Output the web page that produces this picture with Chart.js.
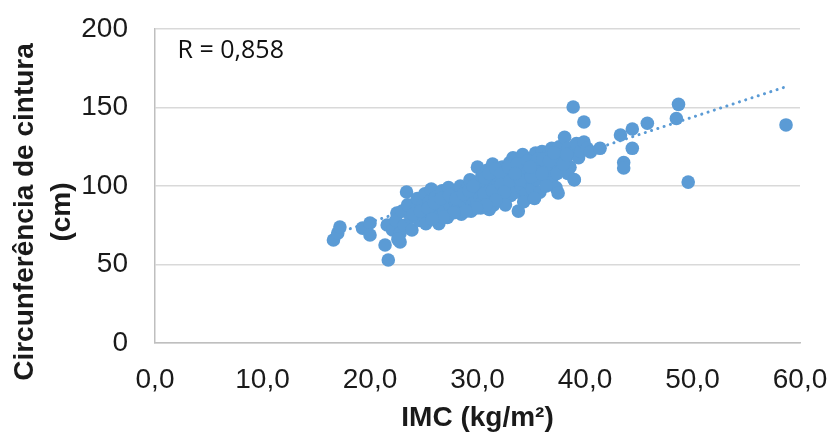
<!DOCTYPE html>
<html>
<head>
<meta charset="utf-8">
<script src="https://cdn.jsdelivr.net/npm/chart.js@4"></script>
<style>
  html, body { margin: 0; padding: 0; background: #fff; }
  #wrap { width: 830px; height: 432px; }
</style>
</head>
<body>
<div id="wrap"><canvas id="chart" width="830" height="432"></canvas></div>
<script>
// Data: IMC (kg/m2) vs waist circumference (cm)
const imcValues = [
  16.6, 17.0, 17.2, 19.3, 20.0, 20.0, 21.6, 21.4, 21.7, 22.8, 23.4, 22.5,
  22.1, 22.4, 22.8, 23.0, 23.2, 23.5, 23.8, 23.9, 22.6,
  24.2, 24.4, 24.6, 24.9, 25.1, 25.3, 25.5, 25.7, 25.9, 25.2,
  26.1, 26.3, 26.5, 26.7, 26.9, 27.1, 27.3, 27.5, 27.7, 27.9, 26.4, 27.2,
  28.1, 28.2, 28.4, 28.6, 28.8, 29.0, 29.1, 29.3, 29.5, 29.7, 29.8, 29.9, 28.5, 29.4,
  30.0, 30.1, 30.2, 30.4, 30.5, 30.6, 30.8, 30.9, 31.0, 31.2, 31.3, 31.4, 31.5, 31.6, 31.8, 31.9, 30.3, 31.1,
  32.0, 32.1, 32.3, 32.4, 32.5, 32.7, 32.8, 33.0, 33.1, 33.2, 33.4, 33.5, 33.6, 33.8, 33.9, 33.8, 32.6, 33.3,
  34.0, 34.1, 34.2, 34.4, 34.5, 34.6, 34.8, 35.0, 35.1, 35.2, 35.4, 35.5, 35.7, 35.8, 35.9, 34.3, 35.3,
  36.0, 36.2, 36.3, 36.5, 36.6, 36.8, 36.9, 37.0, 37.2, 37.3, 37.5, 37.6, 37.8, 37.9, 37.5, 36.4,
  38.1, 38.2, 38.4, 38.6, 38.8, 39.0, 39.2, 39.4, 39.6, 39.9, 40.2, 40.5, 41.4, 38.4, 39.0,
  24.0, 24.7, 25.4, 26.0, 26.6, 27.4, 28.0, 28.7, 29.2, 29.6, 30.7, 31.1, 31.7, 32.2, 32.9, 33.7,
  34.7, 35.6, 36.1, 36.7, 37.1, 37.4, 38.0, 38.3, 30.6, 31.4, 32.2, 33.0, 34.0, 35.0, 36.0, 34.9,
  33.5, 32.5, 31.7, 30.8, 29.9, 28.9, 27.8, 26.8, 25.8,
  38.9, 39.9, 43.3, 44.4, 45.8, 44.4, 43.6, 43.6, 48.7, 48.5, 49.6, 58.7
];
const ccValues = [
  65.6, 70.0, 73.9, 73.2, 76.4, 68.8, 75.2, 62.4, 52.9, 64.3, 96.2, 82.8,
  72, 78, 70, 84, 75, 88, 80, 72, 66,
  85, 92, 78, 88, 95, 82, 90, 98, 86, 76,
  93, 80, 88, 97, 84, 92, 99, 87, 95, 90, 76, 80,
  96, 86, 100, 92, 89, 98, 93, 104, 88, 96, 101, 92, 82, 84,
  112, 99, 94, 106, 90, 102, 97, 110, 92, 104, 99, 114, 88, 108, 95, 101, 86, 85,
  106, 97, 112, 92, 103, 109, 98, 115, 94, 105, 100, 111, 96, 107, 102, 84, 88, 118,
  113, 99, 120, 106, 95, 110, 102, 116, 98, 108, 121, 104, 112, 96, 118, 90, 92,
  122, 109, 115, 103, 120, 112, 124, 106, 118, 99, 114, 125, 110, 120, 95.5, 100,
  131, 117, 124, 112, 121, 104, 127, 118, 122, 128, 124, 121.7, 124, 108, 104,
  82, 84, 86, 89, 92, 94, 92, 95, 97, 100, 105, 108, 111, 108, 112, 114,
  116, 117, 117, 116, 121, 108, 114, 120, 95, 97, 101, 103, 104, 106, 108, 112,
  108, 96, 91, 88, 86, 84, 83, 80, 79,
  150.3, 140.8, 132.5, 136.3, 140, 124, 115, 111.5, 152, 143, 102.5, 138.9
];
// Linear trend line endpoints (dotted)
const trendX = [17.0, 58.5];
const trendY = [70.2, 162.8];
const xTicks = [0, 10, 20, 30, 40, 50, 60];
const rLabel = 'R = 0,858';
const yTitle = ['Circunferência de cintura', '(cm)'];

const blue = '#5B9BD5';
const textColor = '#1a1a1a';
const arial = '"Liberation Sans", Arial, sans-serif';

const scatterPoints = imcValues.map((x, i) => ({ x: x, y: ccValues[i] }));
const trendPoints = trendX.map((x, i) => ({ x: x, y: trendY[i] }));

// Draws the R label and the two-line y title
const labelsPlugin = {
  id: 'labels',
  afterDraw(chart) {
    const c = chart.ctx;
    const xs = chart.scales.x;
    const ys = chart.scales.y;
    c.save();
    c.font = '25px "Open Sans", "Noto Sans", sans-serif';
    c.fillStyle = '#111';
    c.textBaseline = 'middle';
    c.fillText(rLabel, xs.getPixelForValue(2.1), ys.getPixelForValue(186));
    c.restore();

    c.save();
    c.translate(0, 212);
    c.rotate(-Math.PI / 2);
    c.font = 'bold 28px ' + arial;
    c.fillStyle = textColor;
    c.textAlign = 'center';
    c.textBaseline = 'middle';
    c.fillText(yTitle[0], 0, 25);
    c.fillText(yTitle[1], 0, 62);
    c.restore();
  }
};

const ctx = document.getElementById('chart').getContext('2d');
const chart = new Chart(ctx, {
  type: 'scatter',
  data: {
    datasets: [{
      type: 'line',
      label: 'Tendência',
      data: trendPoints,
      borderColor: blue,
      borderWidth: 3,
      borderDash: [0.1, 6.5],
      borderCapStyle: 'round',
      pointRadius: 0,
      fill: false,
      order: 2
    }, {
      label: 'CC',
      data: scatterPoints,
      backgroundColor: blue,
      borderWidth: 0,
      pointRadius: 6.8,
      order: 1
    }]
  },
  options: {
    responsive: false,
    animation: false,
    layout: { padding: { top: 29, right: 30, left: 0, bottom: 0 } },
    plugins: {
      legend: { display: false },
      tooltip: { enabled: false }
    },
    scales: {
      x: {
        type: 'linear',
        min: 0,
        max: 60,
        afterBuildTicks: (s) => { s.ticks = xTicks.map(v => ({ value: v })); },
        afterFit: (s) => { s.height = 89; s.paddingLeft = 0; s.paddingRight = 0; },
        grid: { display: false, drawTicks: false },
        border: { display: true, color: '#bfbfbf', width: 1.5 },
        ticks: {
          padding: 20,
          color: textColor,
          font: { family: arial, size: 28 },
          callback: (v) => v.toFixed(1).replace('.', ',')
        },
        title: {
          display: true,
          text: 'IMC (kg/m²)',
          color: textColor,
          font: { family: arial, size: 28, weight: 'bold', lineHeight: 1 },
          padding: { top: 0, bottom: 0 }
        }
      },
      y: {
        min: 0,
        max: 200,
        afterFit: (s) => { s.width = 155; s.paddingTop = 0; s.paddingBottom = 0; },
        grid: { color: '#d9d9d9', lineWidth: 1.5, drawTicks: false },
        border: { display: true, color: '#bfbfbf', width: 1.5 },
        ticks: {
          stepSize: 50,
          padding: 27,
          color: textColor,
          font: { family: arial, size: 28 }
        },
        title: { display: false }
      }
    }
  },
  plugins: [labelsPlugin]
});
</script>
</body>
</html>
